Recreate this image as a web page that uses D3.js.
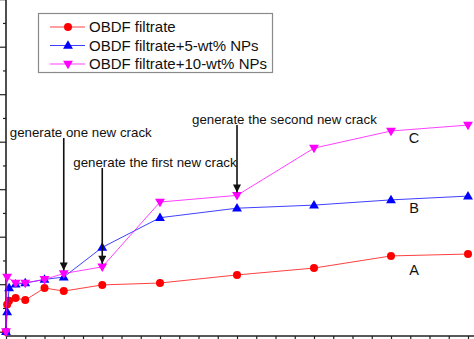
<!DOCTYPE html>
<html>
<head>
<meta charset="utf-8">
<script src="https://cdn.jsdelivr.net/npm/d3@7"></script>
<style>
  html, body { margin: 0; padding: 0; background: #fff; overflow: hidden; }
  svg { display: block; }
</style>
</head>
<body>
<svg id="chart" width="474" height="339"></svg>
<script>
// ---- data ----
const seriesNames = ["OBDF filtrate", "OBDF filtrate+5-wt% NPs", "OBDF filtrate+10-wt% NPs"];
const curveLabels = ["A", "B", "C"];

const timeA   = [0, 0.3, 0.8, 2.5, 5, 10, 15, 25, 40, 60, 80, 100, 120];
const valuesA = [0, 1.15, 1.3, 1.42, 1.33, 1.84, 1.71, 1.97, 2.05, 2.39, 2.68, 3.19, 3.27];

const timeB   = [0, 0.3, 0.8, 2.5, 5, 10, 15, 25, 40, 60, 80, 100, 120];
const valuesB = [0, 0.83, 1.84, 2.0, 2.05, 2.2, 2.3, 3.55, 4.8, 5.2, 5.33, 5.55, 5.71];

const timeC   = [0, 0.3, 2.5, 5, 10, 15, 25, 40, 60, 80, 100, 120];
const valuesC = [0, 2.3, 2.05, 2.05, 2.2, 2.45, 2.73, 5.46, 5.74, 7.73, 8.45, 8.7];

// crack events, marked on curve C
const eventTexts = ["generate one new crack", "generate the first new crack", "generate the second new crack"];
const eventTimes = [15, 25, 60];

const xTicks = d3.range(0, 121, 5);
const yTicks = d3.range(0, 15, 1);

// ---- layout ----
const W = 474, H = 339;
const svg = d3.select("#chart");
svg.append("rect").attr("width", W).attr("height", H).attr("fill", "#fff");

const x = d3.scaleLinear().domain([0, 120]).range([6, 468]);
const y = d3.scaleLinear().domain([0, 14]).range([331.7, -0.8]);
const axisY = 336, axisX = 6;

// ---- axes ----
const isMajorX = d => d % 10 === 0;
const isMajorY = d => d % 2 === 0;

svg.append("g")
  .attr("transform", `translate(0,${axisY})`)
  .call(d3.axisBottom(x).tickValues(xTicks).tickSize(0).tickFormat(""))
  .call(g => g.select(".domain").remove())
  .call(g => g.selectAll(".tick line")
    .attr("y2", d => isMajorX(d) ? 6 : 3)
    .attr("stroke", "#222").attr("stroke-width", 1.2));

svg.append("g")
  .attr("transform", `translate(${axisX},0)`)
  .call(d3.axisLeft(y).tickValues(yTicks).tickSize(0).tickFormat(""))
  .call(g => g.select(".domain").remove())
  .call(g => g.selectAll(".tick line")
    .attr("x2", d => isMajorY(d) ? -6 : -3)
    .attr("stroke", "#222").attr("stroke-width", 1.2));

svg.append("line").attr("x1", axisX).attr("x2", W).attr("y1", axisY).attr("y2", axisY)
  .attr("stroke", "#222").attr("stroke-width", 1.6);
svg.append("line").attr("x1", axisX).attr("x2", axisX).attr("y1", 0).attr("y2", axisY)
  .attr("stroke", "#222").attr("stroke-width", 1.6);

// ---- series ----
const series = [
  { name: seriesNames[0], t: timeA, v: valuesA, color: "#ff0000", shape: "circle" },
  { name: seriesNames[1], t: timeB, v: valuesB, color: "#0000ff", shape: "up" },
  { name: seriesNames[2], t: timeC, v: valuesC, color: "#ff00ff", shape: "down" }
];

const line = d3.line().x(d => x(d[0])).y(d => y(d[1]));
const triPath = d3.symbol().type(d3.symbolTriangle).size(42)();

function drawMarker(g, shape, color, cx, cy) {
  if (shape === "circle") {
    g.append("circle").attr("cx", cx).attr("cy", cy).attr("r", 4).attr("fill", color);
  } else {
    g.append("path").attr("d", triPath)
      .attr("transform", `translate(${cx},${cy + (shape === "up" ? 0.5 : -0.5)})${shape === "down" ? " rotate(180)" : ""}`)
      .attr("fill", color);
  }
}

series.forEach(s => {
  const pts = s.t.map((t, i) => [t, s.v[i]]);
  const g = svg.append("g");
  g.append("path").attr("d", line(pts)).attr("fill", "none")
    .attr("stroke", s.color).attr("stroke-width", 1).attr("opacity", 0.75);
  pts.forEach(p => drawMarker(g, s.shape, s.color, x(p[0]), y(p[1])));
});

// ---- curve labels ----
const labelValues = [2.4, 5.0, 7.95];
curveLabels.forEach((lab, i) => {
  svg.append("text").attr("x", x(106)).attr("y", y(labelValues[i]))
    .attr("text-anchor", "middle")
    .attr("font-family", "Liberation Sans, Arial, sans-serif")
    .attr("font-size", 14.5).attr("fill", "#111").text(lab);
});

// ---- crack annotations ----
const defs = svg.append("defs");
defs.append("marker").attr("id", "arrow").attr("viewBox", "0 0 10 10")
  .attr("refX", 10).attr("refY", 5).attr("markerWidth", 6.5).attr("markerHeight", 5)
  .attr("markerUnits", "strokeWidth").attr("orient", "auto")
  .append("path").attr("d", "M0,0 L10,5 L0,10 Z").attr("fill", "#111");

const textBaselines = [137, 167, 124];
const textShift = [-54, -29, -45];
eventTimes.forEach((t, i) => {
  const idx = timeC.indexOf(t);
  const px = x(t), py = y(valuesC[idx]);
  svg.append("line").attr("x1", px).attr("x2", px)
    .attr("y1", textBaselines[i] + 1).attr("y2", py - 3)
    .attr("stroke", "#111").attr("stroke-width", 1.6)
    .attr("marker-end", "url(#arrow)");
  svg.append("text").attr("x", px + textShift[i]).attr("y", textBaselines[i])
    .attr("font-family", "Liberation Sans, Arial, sans-serif")
    .attr("font-size", 13.3).attr("fill", "#111").text(eventTexts[i]);
});

// ---- legend ----
const lg = svg.append("g");
lg.append("rect").attr("x", 38.5).attr("y", 13.5).attr("width", 234).attr("height", 59)
  .attr("fill", "#fff").attr("stroke", "#8a8a8a").attr("stroke-width", 1.2);
series.forEach((s, i) => {
  const ly = 27 + i * 18.5;
  lg.append("line").attr("x1", 50).attr("x2", 85).attr("y1", ly).attr("y2", ly)
    .attr("stroke", s.color).attr("stroke-width", 1).attr("opacity", 0.75);
  drawMarker(lg, s.shape, s.color, 68, ly);
  lg.append("text").attr("x", 89).attr("y", ly).attr("dy", "0.36em")
    .attr("font-family", "Liberation Sans, Arial, sans-serif")
    .attr("font-size", 15).attr("fill", "#111").text(s.name);
});
</script>
</body>
</html>
